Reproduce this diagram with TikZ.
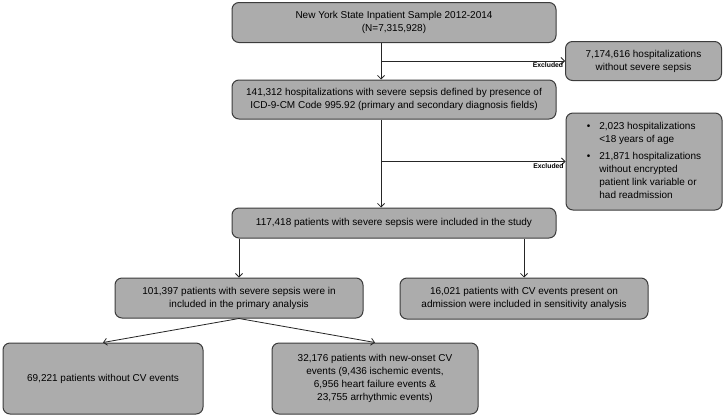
\documentclass[tikz,border=0pt]{standalone}
\usepackage{fontspec}
\setmainfont{Liberation Sans}
\usepackage{xcolor}
\usetikzlibrary{arrows, arrows.meta}
\usetikzlibrary{positioning}
\definecolor{BOX_GRAY}{RGB}{172, 172, 172}
\definecolor{EDGE_GRAY}{RGB}{60, 60, 60}

\begin{document}
\begin{tikzpicture}[x=1pt, y=-1pt,
		box/.style={draw=EDGE_GRAY, fill=BOX_GRAY, rounded corners=7pt, line width=1pt, align=center, inner sep=2pt, font=\fontsize{10}{13}\selectfont},
		link/.style={-{Straight Barb[length=3.5pt, width=7pt]}, draw=black!85, line width=0.8pt},
		excl/.style={below left, font=\fontsize{6.8}{8}\selectfont\bfseries, inner sep=1.5pt}]
				\useasboundingbox (0, 0) rectangle (725, 418);
				\node[box, minimum width=324pt, minimum height=40pt] (nis) at (394, 22.5) {New York State Inpatient Sample 2012-2014\\(N=7,315,928)};
				\node[box, minimum width=156pt, minimum height=39pt] (nosep) at (643.5, 61) {7,174,616 hospitalizations\\without severe sepsis};
				\node[box, minimum width=324pt, minimum height=39pt] (sepsis) at (394, 99.5) {141,312 hospitalizations with severe sepsis defined by presence of\\ICD-9-CM Code 995.92 (primary and secondary diagnosis fields)};
				\node[box, minimum width=156pt, minimum height=97pt, align=left] (young) at (644, 161.5) {\begin{tabular}{@{}l@{\hspace{9pt}}l@{}}\textbullet & 2,023 hospitalizations\\ & <18 years of age\\[4pt] \textbullet & 21,871 hospitalizations\\ & without encrypted\\ & patient link variable or\\ & had readmission\end{tabular}};
				\node[box, minimum width=324pt, minimum height=30pt] (study) at (394, 223) {117,418 patients with severe sepsis were included in the study};
				\node[box, minimum width=248pt, minimum height=40pt] (primary) at (239, 298) {101,397 patients with severe sepsis were in\\included in the primary analysis};
				\node[box, minimum width=248pt, minimum height=41pt] (sens) at (524, 298.5) {16,021 patients with CV events present on\\admission were included in sensitivity analysis};
				\node[box, minimum width=200pt, minimum height=71pt] (nocv) at (103, 378.5) {69,221 patients without CV events};
				\node[box, minimum width=206pt, minimum height=71pt] (newcv) at (375, 378.5) {32,176 patients with new-onset CV\\events (9,436 ischemic events,\\6,956 heart failure events \&\\23,755 arrhythmic events)};
				\coordinate (s1) at ([xshift=-13pt]nis.south);
				\coordinate (s2) at ([xshift=-13pt]sepsis.south);
				\draw[link] (s1) to ([xshift=-13pt]sepsis.north);
				\draw[link] (s1 |- nosep.west) to node[pos=1, excl] {Excluded} (nosep.west);
				\draw[link] (s2) to ([xshift=-13pt]study.north);
				\draw[link] (s2 |- young.west) to node[pos=1, excl] {Excluded} (young.west);
				\draw[link] (study.south -| primary.north) to (primary.north);
				\draw[link] (study.south -| sens.north) to (sens.north);
				\draw[link] (primary.south) to (nocv.north);
				\draw[link] (primary.south) to (newcv.north);
			\end{tikzpicture}
\end{document}
